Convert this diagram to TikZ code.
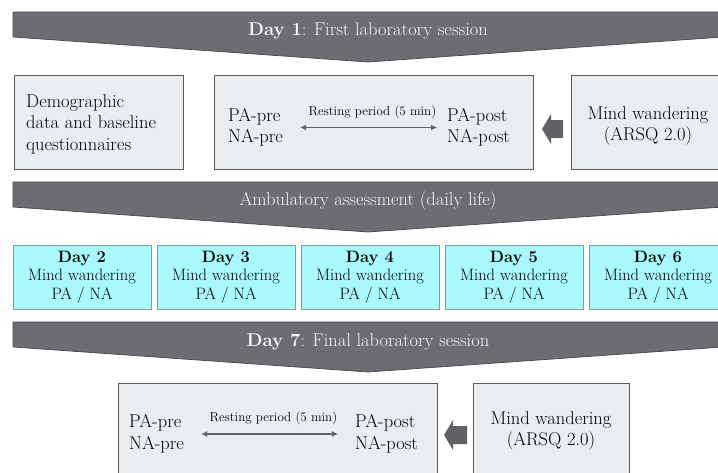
\documentclass[tikz,border=0pt]{standalone}
\usetikzlibrary{arrows.meta}

\definecolor{boxfill}{RGB}{233,237,240}
\definecolor{boxline}{RGB}{90,90,92}
\definecolor{dayfill}{RGB}{168,248,252}
\definecolor{dayline}{RGB}{150,152,154}
\definecolor{bannerfill}{RGB}{109,108,114}
\definecolor{bannerline}{RGB}{72,72,76}
\definecolor{bannertext}{RGB}{246,246,246}
\definecolor{arrowgray}{RGB}{98,98,102}

\begin{document}
\begin{tikzpicture}[x=1pt,y=-1pt,
  box/.style={draw=boxline,fill=boxfill,line width=1pt,minimum height=94pt,inner sep=0pt},
  daybox/.style={draw=dayline,fill=dayfill,line width=0.8pt,minimum width=138pt,minimum height=64pt,inner sep=0pt,align=center,font=\fontsize{16.5}{18.5}\selectfont},
  txt/.style={inner sep=0pt,font=\fontsize{18.5}{21.5}\selectfont},
  banner/.style={fill=bannerfill,draw=bannerline,line width=0.7pt},
  bannertxt/.style={text=bannertext,inner sep=0pt,font=\fontsize{18.5}{20}\selectfont},
  restlbl/.style={inner sep=0pt,font=\fontsize{13}{15}\selectfont},
  restarr/.style={draw=arrowgray,line width=1.8pt,{Latex[length=6pt,width=6pt]}-{Latex[length=6pt,width=6pt]}},
  blockarr/.style={fill=arrowgray}
]
\useasboundingbox (0,0) rectangle (718,472);
\clip (0,0) rectangle (718,472);

% banners
\draw[banner] (13,12) -- (723,12) -- (723,37) -- (368,62) -- (13,37) -- cycle;
\draw[banner] (13,182) -- (723,182) -- (723,207) -- (368,232) -- (13,207) -- cycle;
\draw[banner] (13,322) -- (723,322) -- (723,347) -- (368,372) -- (13,347) -- cycle;
\node[bannertxt] (ban1) at (368,31) {\textbf{Day 1}: First laboratory session};
\node[bannertxt] (ban2) at (368,201) {Ambulatory assessment (daily life)};
\node[bannertxt] (ban3) at (368,342) {\textbf{Day 7}: Final laboratory session};

% first session
\node[box,minimum width=169pt] (demo) at (98.5,122) {};
\node[txt,anchor=west,align=left] (demotxt) at (26,124) {Demographic\\data and baseline\\questionnaires};
\node[box,minimum width=319pt] (lab1) at (373.5,122) {};
\node[txt,anchor=west,align=left] (pre1) at (228,127.5) {PA-pre\\NA-pre};
\node[txt,anchor=west,align=left] (post1) at (447,127.5) {PA-post\\NA-post};
\draw[restarr,shorten <=17pt,shorten >=10pt] (pre1.east) -- (post1.west);
\node[restlbl] (rest1) at (372.5,112) {Resting period (5 min)};
\node[box,minimum width=154pt] (mw1) at (648,122) {};
\node[txt,align=center] (mwtxt1) at (648,126) {Mind wandering\\(ARSQ 2.0)};
\coordinate (arr1) at (542,129);
\fill[blockarr] (arr1) -- ++(9,-15) -- ++(0,6) -- ++(12,0) -- ++(0,18) -- ++(-12,0) -- ++(0,6) -- cycle;

% daily life
\foreach \d [count=\i from 0] in {2,...,6}
  \node[daybox] (day\d) at (82+144*\i,277) {\textbf{Day \d}\\Mind wandering\\PA / NA};

% final session
\node[box,minimum width=319pt] (lab2) at (277.5,430) {};
\node[txt,anchor=west,align=left] (pre2) at (129,434) {PA-pre\\NA-pre};
\node[txt,anchor=west,align=left] (post2) at (355,434) {PA-post\\NA-post};
\draw[restarr,shorten <=17pt,shorten >=17pt] (pre2.east) -- (post2.west);
\node[restlbl] (rest2) at (273.5,418) {Resting period (5 min)};
\node[box,minimum width=156pt] (mw2) at (551,430) {};
\node[txt,align=center] (mwtxt2) at (551,431) {Mind wandering\\(ARSQ 2.0)};
\coordinate (arr2) at (444,435);
\fill[blockarr] (arr2) -- ++(9,-15) -- ++(0,6) -- ++(14,0) -- ++(0,18) -- ++(-14,0) -- ++(0,6) -- cycle;
\end{tikzpicture}
\end{document}
